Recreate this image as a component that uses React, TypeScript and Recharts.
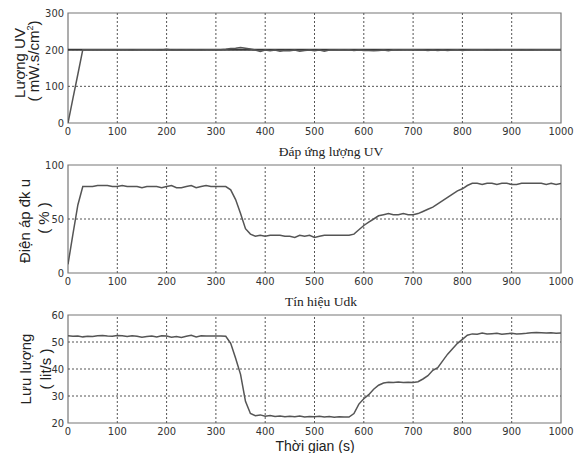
import React from "react";
import {
  LineChart,
  Line,
  XAxis,
  YAxis,
  ReferenceLine,
  ReferenceArea,
} from "recharts";

// sample times (s), every 10 s
const times = [
  0, 10, 20, 30, 40, 50, 60, 70, 80, 90, 100, 110, 120, 130, 140, 150, 160, 170, 180, 190,
  200, 210, 220, 230, 240, 250, 260, 270, 280, 290, 300, 310, 320, 330, 340, 350, 360, 370, 380, 390,
  400, 410, 420, 430, 440, 450, 460, 470, 480, 490, 500, 510, 520, 530, 540, 550, 560, 570, 580, 590,
  600, 610, 620, 630, 640, 650, 660, 670, 680, 690, 700, 710, 720, 730, 740, 750, 760, 770, 780, 790,
  800, 810, 820, 830, 840, 850, 860, 870, 880, 890, 900, 910, 920, 930, 940, 950, 960, 970, 980, 990,
  1000,
];

// Lượng UV response
const uvValues = [
  0, 67, 133, 200, 200, 200, 200, 200, 200, 200, 200, 200, 200, 199, 200, 200, 200, 200, 200, 199,
  201, 199, 200, 199, 200, 199, 200, 199, 200, 200, 200, 200, 201, 203, 204, 206, 204, 202, 199, 195,
  199, 197, 199, 196, 198, 197, 199, 196, 198, 199, 197, 199, 196, 199, 199, 200, 199, 200, 198, 199,
  198, 198, 197, 198, 199, 197, 200, 199, 200, 200, 200, 199, 199, 198, 199, 198, 199, 198, 199, 200,
  198, 199, 200, 200, 200, 199, 200, 199, 200, 200, 200, 200, 199, 200, 199, 200, 200, 200, 200, 200,
  200,
];
const uvSetTimes = [0, 1000];
const uvSetpoint = [200, 200];

// Tín hiệu Udk (%)
const udkValues = [
  8, 36, 63, 80, 80, 80, 81, 81, 81, 80, 80, 81, 80, 80, 80, 79, 80, 80, 80, 79,
  80, 81, 79, 79, 80, 81, 79, 80, 81, 80, 80, 80, 80, 77, 68, 55, 41, 36, 34, 35,
  34, 35, 35, 35, 34, 34, 33, 35, 34, 35, 33, 34, 35, 35, 35, 35, 35, 35, 36, 40,
  44, 47, 50, 53, 54, 55, 54, 54, 55, 54, 54, 55, 57, 59, 61, 64, 67, 70, 73, 76,
  78, 81, 83, 83, 82, 83, 83, 82, 83, 83, 82, 82, 83, 83, 83, 83, 83, 82, 83, 82,
  83,
];

// Lưu lượng (lit/s)
const flowValues = [
  52.3, 52.1, 52.2, 51.9, 52.1, 52.0, 52.3, 52.4, 52.2, 52.1, 52.4, 52.3, 52.0, 52.3, 52.1, 51.8, 52.0, 52.2, 51.9, 52.3,
  52.2, 51.8, 52.0, 51.7, 52.1, 52.5, 51.9, 52.3, 52.2, 52.2, 52.2, 52.2, 52.1, 49.5, 44.0, 38.0, 28.0, 23.5, 22.7, 23.0,
  22.5, 22.8, 22.4, 22.6, 22.3, 22.5, 22.3, 22.6, 22.2, 22.4, 22.3, 22.5, 22.2, 22.4, 22.1, 22.3, 22.2, 22.2, 23.5, 27.0,
  29.0, 30.5, 32.5, 34.0, 34.8, 35.1, 35.0, 35.2, 35.0, 35.1, 35.0, 35.3, 36.3, 37.5, 39.5, 40.5, 43.0, 45.5, 47.5, 49.5,
  51.0, 52.5, 53.0, 52.9, 53.3, 53.0, 53.1, 53.2, 52.9, 53.1, 53.2, 53.0, 53.1, 53.2, 53.4, 53.5, 53.4, 53.3, 53.4, 53.2,
  53.3,
];

const xTicks = [0, 100, 200, 300, 400, 500, 600, 700, 800, 900, 1000];
const uvTicks = [0, 100, 200, 300];
const udkTicks = [0, 50, 100];
const flowTicks = [20, 30, 40, 50, 60];

const toRows = (xs: number[], ys: number[]) => xs.map((t, i) => ({ t, v: ys[i] }));

const tickStyle = {
  fontSize: 11,
  fontFamily: "'Liberation Sans Narrow', 'DejaVu Sans Condensed', 'Liberation Sans', Arial, sans-serif",
  fill: "#333",
};

const sans = "'Liberation Sans', Arial, sans-serif";
const serif = "'Liberation Serif', 'Times New Roman', serif";
const gridColor = "#555";

interface PanelProps {
  top: number;
  marginTop: number;
  yDomain: [number, number];
  yTicks: number[];
  children: React.ReactNode;
}

function Panel({ top, marginTop, yDomain, yTicks, children }: PanelProps) {
  const innerX = xTicks.filter((v) => v > 0 && v < 1000);
  const innerY = yTicks.filter((v) => v > yDomain[0] && v < yDomain[1]);
  return (
    <div style={{ position: "absolute", left: 0, top }}>
      <LineChart
        width={575}
        height={145}
        margin={{ top: marginTop, right: 14, bottom: 2, left: 38 }}
      >
        <XAxis
          type="number"
          dataKey="t"
          domain={[0, 1000]}
          ticks={xTicks}
          height={20}
          axisLine={false}
          tickSize={3}
          tickLine={false}
          tickMargin={1}
          tick={tickStyle}
          allowDataOverflow
        />
        <YAxis
          type="number"
          domain={yDomain}
          ticks={yTicks}
          width={30}
          axisLine={false}
          tickLine={false}
          tickSize={3}
          tickMargin={1}
          tick={tickStyle}
          allowDataOverflow
        />
        {innerX.map((v) => (
          <ReferenceLine key={`gx${v}`} x={v} stroke={gridColor} strokeDasharray="2 2" strokeWidth={1} />
        ))}
        {innerY.map((v) => (
          <ReferenceLine key={`gy${v}`} y={v} stroke={gridColor} strokeDasharray="2 2" strokeWidth={1} />
        ))}
        <ReferenceArea
          x1={0}
          x2={1000}
          y1={yDomain[0]}
          y2={yDomain[1]}
          fill="none"
          stroke="#777"
          strokeWidth={1.2}
        />
        {children}
      </LineChart>
    </div>
  );
}

function VLabel({ text, cx, cy, size = 15 }: { text: React.ReactNode; cx: number; cy: number; size?: number }) {
  return (
    <div
      style={{
        position: "absolute",
        left: cx,
        top: cy,
        transform: "translate(-50%, -50%) rotate(-90deg)",
        whiteSpace: "nowrap",
        fontFamily: sans,
        fontSize: size,
        color: "#222",
        lineHeight: 1,
      }}
    >
      {text}
    </div>
  );
}

function Title({ text, cx, cy, font, size }: { text: string; cx: number; cy: number; font: string; size: number }) {
  return (
    <div
      style={{
        position: "absolute",
        left: cx,
        top: cy,
        transform: "translate(-50%, -50%)",
        whiteSpace: "nowrap",
        fontFamily: font,
        fontSize: size,
        color: "#222",
        lineHeight: 1,
      }}
    >
      {text}
    </div>
  );
}

export default function App() {
  return (
    <div
      style={{
        position: "absolute",
        left: 0,
        top: 0,
        width: 575,
        height: 453,
        background: "#fff",
        overflow: "hidden",
      }}
    >
      <Panel top={0} marginTop={13} yDomain={[0, 300]} yTicks={uvTicks}>
        <Line
          data={toRows(uvSetTimes, uvSetpoint)}
          dataKey="v"
          stroke="#3a3a3a"
          strokeWidth={2}
          dot={false}
          isAnimationActive={false}
        />
        <Line
          data={toRows(times, uvValues)}
          dataKey="v"
          stroke="#555"
          strokeWidth={1.5}
          dot={false}
          isAnimationActive={false}
        />
      </Panel>
      <Panel top={150} marginTop={15} yDomain={[0, 100]} yTicks={udkTicks}>
        <Line
          data={toRows(times, udkValues)}
          dataKey="v"
          stroke="#555"
          strokeWidth={1.5}
          dot={false}
          isAnimationActive={false}
        />
      </Panel>
      <Panel top={300} marginTop={15} yDomain={[20, 60]} yTicks={flowTicks}>
        <Line
          data={toRows(times, flowValues)}
          dataKey="v"
          stroke="#555"
          strokeWidth={1.5}
          dot={false}
          isAnimationActive={false}
        />
      </Panel>

      <VLabel text="Lượng UV" cx={19} cy={63} />
      <VLabel
        text={
          <span>
            ( mW.s/cm<sup style={{ fontSize: 9 }}>2</sup>)
          </span>
        }
        cx={33}
        cy={61}
      />
      <VLabel text="Điện áp đk u" cx={24} cy={221} />
      <VLabel text="( % )" cx={43} cy={218} />
      <VLabel text="Lưu lượng" cx={25} cy={369} />
      <VLabel text="( lit/s )" cx={45} cy={369} />

      <Title text="Đáp ứng lượng UV" cx={331} cy={152} font={serif} size={13.5} />
      <Title text="Tín hiệu Udk" cx={321} cy={302} font={serif} size={13.5} />
      <Title text="Thời gian (s)" cx={315} cy={446} font={sans} size={14} />
    </div>
  );
}
